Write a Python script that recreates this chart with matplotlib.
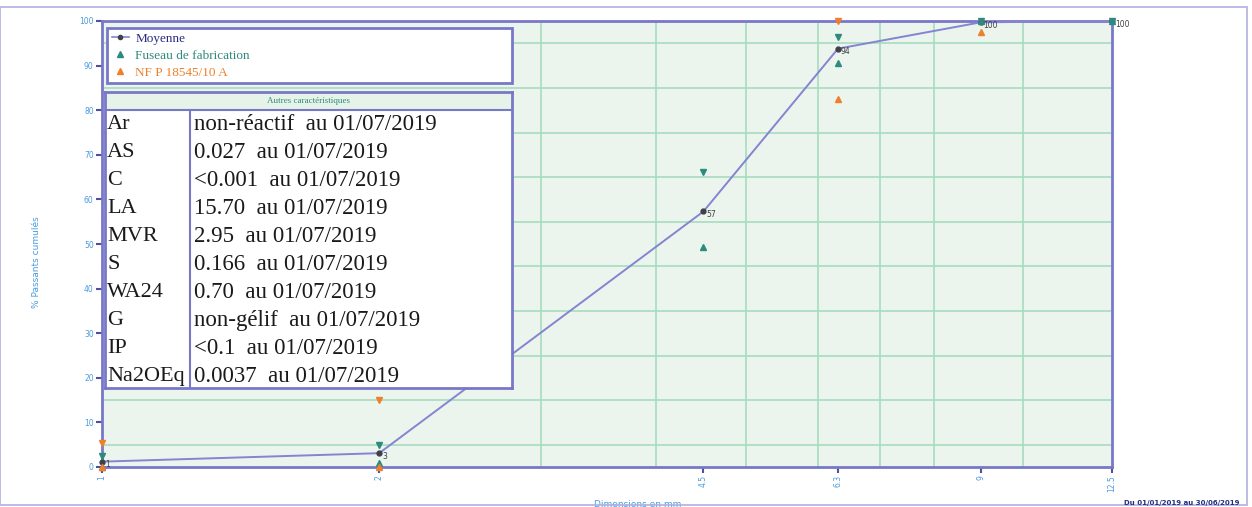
import numpy as np
import matplotlib
matplotlib.use("Agg")
import matplotlib.pyplot as plt
from matplotlib.patches import Rectangle
from matplotlib.lines import Line2D
from matplotlib.ticker import NullFormatter

# Tamis (mm) et pourcentages passants
sieves = [1, 2, 4.5, 6.3, 9, 12.5]
sieve_labels = ["1", "2", "4.5", "6.3", "9", "12.5"]
moyenne = [1.2, 3.1, 57.3, 93.8, 99.7, 100]
fuseau_max = [2.5, 5.0, 66.2, 96.4, 100, 100]
fuseau_min = [0, 1.0, 49.4, 90.6, 100, 100]
norme_max = [5.3, 15.0, np.nan, 100, np.nan, np.nan]
norme_min = [0, 0, np.nan, 82.5, 97.5, np.nan]

carac_names = ["Ar", "AS", "C", "LA", "MVR", "S", "WA24", "G", "IP", "Na2OEq"]
carac_values = ["non-réactif  au 01/07/2019", "0.027  au 01/07/2019",
                "<0.001  au 01/07/2019", "15.70  au 01/07/2019",
                "2.95  au 01/07/2019", "0.166  au 01/07/2019",
                "0.70  au 01/07/2019", "non-gélif  au 01/07/2019",
                "<0.1  au 01/07/2019", "0.0037  au 01/07/2019"]

W, H = 1252, 507
FRAME = "#7878c8"
BLUE_TXT = "#4a9be0"
TEAL = "#2f8a7e"
ORANGE = "#f07f2a"
GRID = "#a6dcc0"

fig = plt.figure(figsize=(W / 100, H / 100), dpi=100)
fig.patch.set_facecolor("white")

def fbox(x0, y0, x1, y1):
    # pixel box -> figure fraction [left, bottom, width, height]
    return [x0 / W, 1 - y1 / H, (x1 - x0) / W, (y1 - y0) / H]

ax = fig.add_axes(fbox(102, 21, 1112, 467))
ax.set_facecolor("#ebf5ee")
ax.set_xscale("log")
ax.set_xlim(1, 12.5)
ax.set_ylim(0, 100)

# grille
ax.set_xticks(sieves)
ax.set_xticklabels(sieve_labels, rotation=90, fontsize=5.5, color=BLUE_TXT)
ax.set_xticks([2, 3, 4, 5, 6, 7, 8, 9, 10], minor=True)
ax.xaxis.set_minor_formatter(NullFormatter())
ax.set_yticks(np.arange(0, 101, 10))
ax.set_yticklabels([str(v) for v in range(0, 101, 10)], fontsize=5.5, color=BLUE_TXT)
ax.set_yticks(np.arange(0, 101, 5), minor=True)
ax.grid(False)
ax.grid(True, which="minor", color=GRID, linewidth=1.2)
ax.tick_params(axis="both", which="major", length=4, width=1.5, color="#5050a0", pad=2)
ax.tick_params(axis="both", which="minor", length=0)
for s in ax.spines.values():
    s.set_color(FRAME)
    s.set_linewidth(2)

# courbes
ax.plot(sieves, moyenne, color="#8484d0", linewidth=1.4, zorder=3)
ax.plot(sieves, moyenne, linestyle="none", marker="o", markersize=3.5,
        color="#404048", zorder=4, clip_on=False)
ax.plot(sieves, fuseau_max, linestyle="none", marker="v", markersize=4,
        color=TEAL, zorder=4, clip_on=False)
ax.plot(sieves, fuseau_min, linestyle="none", marker="^", markersize=4,
        color=TEAL, zorder=4, clip_on=False)
ax.plot(sieves, norme_max, linestyle="none", marker="v", markersize=4,
        color=ORANGE, zorder=4, clip_on=False)
ax.plot(sieves, norme_min, linestyle="none", marker="^", markersize=4,
        color=ORANGE, zorder=4, clip_on=False)
for xv, yv in zip(sieves, moyenne):
    ax.annotate(f"{yv:.0f}", (xv, yv), xytext=(2, -4), textcoords="offset points",
                fontsize=5.5, color="#404048", zorder=5)

ax.set_xlabel("Dimensions en mm", fontsize=6.5, color=BLUE_TXT)
ax.set_ylabel("% Passants cumulés", fontsize=6.5, color=BLUE_TXT)
ax.xaxis.set_label_coords(0.53, -0.075)
ax.yaxis.set_label_coords(-0.06, 0.46)

# légende
handles = [
    Line2D([], [], color="#8484d0", marker="o", markerfacecolor="#404048",
           markeredgecolor="#404048", markersize=3, linewidth=1.2),
    Line2D([], [], color=TEAL, marker="^", linestyle="none", markersize=4),
    Line2D([], [], color=ORANGE, marker="^", linestyle="none", markersize=4),
]
leg = ax.legend(handles, ["Moyenne", "Fuseau de fabrication", "NF P 18545/10 A"],
                loc="upper left", bbox_to_anchor=(0.005, 0.984, 0.401, 0.0),
                mode="expand", borderaxespad=0, fancybox=False, frameon=True,
                framealpha=1, handlelength=1.3, handletextpad=0.5, borderpad=0.35,
                labelspacing=0.35, prop={"family": "Liberation Serif", "size": 9.5})
leg.get_frame().set_edgecolor(FRAME)
leg.get_frame().set_linewidth(2)
for t, c in zip(leg.get_texts(), ["#2a2a80", TEAL, ORANGE]):
    t.set_color(c)

# tableau des autres caractéristiques
tx0, ty0, tx1, ty1 = 105, 92, 512, 388
tab = fig.add_axes(fbox(tx0, ty0, tx1, ty1))
tab.set_xlim(tx0, tx1)
tab.set_ylim(ty1, ty0)
tab.set_facecolor("white")
tab.set_xticks([])
tab.set_yticks([])
for s in tab.spines.values():
    s.set_color(FRAME)
    s.set_linewidth(2)
tab.add_patch(Rectangle((tx0, ty0), tx1 - tx0, 18, facecolor="#e6f3e9",
                        edgecolor="none"))
tab.plot([tx0, tx1], [ty0 + 18, ty0 + 18], color=FRAME, linewidth=1.5)
tab.plot([190, 190], [ty0 + 18, ty1], color=FRAME, linewidth=1.5)
tab.text((tx0 + tx1) / 2, ty0 + 9, "Autres caractéristiques", ha="center",
         va="center", fontsize=6.5, color=TEAL, family="Liberation Serif")
for i, (n, v) in enumerate(zip(carac_names, carac_values)):
    yy = 125 + i * 28.0
    tab.text(107, yy, n, ha="left", va="center", fontsize=16,
             color="#1a1a1a", family="Liberation Serif")
    tab.text(194, yy, v, ha="left", va="center", fontsize=16.5,
             color="#1a1a1a", family="Liberation Serif")

# cadre et mention
fig.patches.append(Rectangle((0, 2 / H), 1247 / W, (505 - 7) / H,
                             transform=fig.transFigure, fill=False,
                             edgecolor="#b0b0dc", linewidth=1.2))
fig.text(1240 / W, 1 - 503 / H, "Du 01/01/2019 au 30/06/2019", ha="right",
         va="center", fontsize=5, color="#203080", fontweight="bold")

fig.savefig("out.png", dpi=100)
